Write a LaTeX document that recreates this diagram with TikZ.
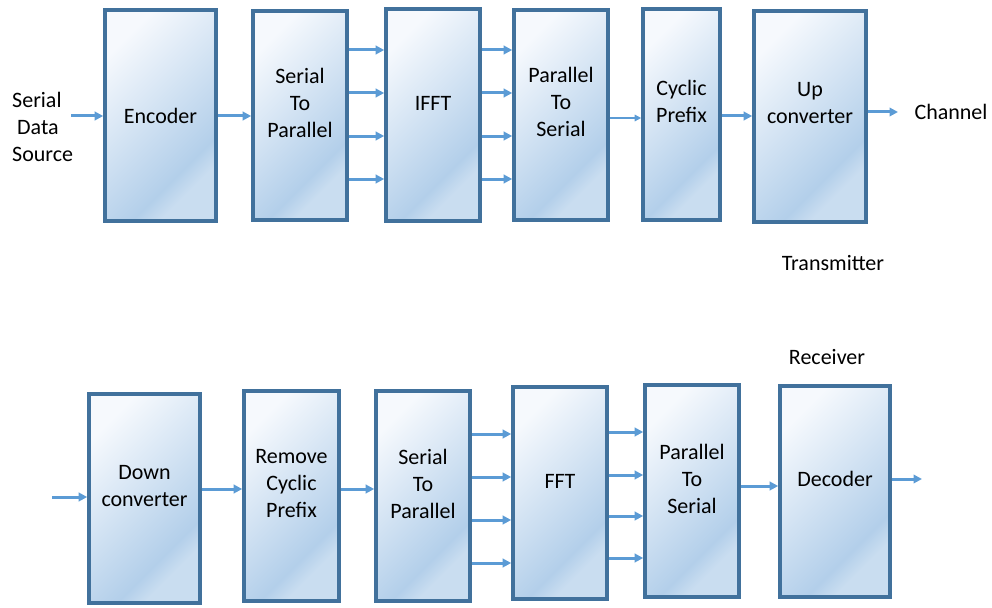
\documentclass[tikz,border=0pt]{standalone}
\usepackage{fontspec}
\setmainfont{Carlito}
\usetikzlibrary{arrows.meta}

\definecolor{bord}{HTML}{41719C}
\definecolor{arrc}{HTML}{5B9BD5}
\definecolor{bxL}{HTML}{F6F9FD}
\definecolor{bxD}{HTML}{B3CFEA}
\definecolor{bxB}{HTML}{C9DDF0}

% diagonal fill of the blocks: pale at the top, deeper blue near the bottom
\pgfdeclareverticalshading{boxfill}{100bp}{%
  color(0bp)=(bxB); color(27bp)=(bxB); color(33bp)=(bxD);
  color(75bp)=(bxL); color(100bp)=(bxL)}

\tikzset{
  blk/.style={draw=bord, line width=3.6pt, shading=boxfill, shading angle=45,
              inner sep=0pt},
  txt/.style={font=\fontsize{22}{27}\selectfont, align=center, inner sep=0pt},
  arr/.style={draw=arrc, line width=3pt,
              -{Triangle[length=8.5pt,width=8.5pt]}},
  thinarr/.style={draw=arrc, line width=1.3pt,
              -{Triangle[length=6.5pt,width=6.5pt]}},
}

\begin{document}
\begin{tikzpicture}[x=1pt, y=-1pt]
\useasboundingbox (0,0) rectangle (992,607);

% ---------------- transmitter chain ----------------
\node[blk, minimum width=111pt, minimum height=211pt,
      label={[txt, name=enct]center:Encoder}] (enc) at (160.5,115.5) {};
\node[blk, minimum width=94pt, minimum height=209pt,
      label={[txt, name=s2pat, yshift=12.5pt]center:Serial\\To\\Parallel}] (s2pa) at (300,115.5) {};
\node[blk, minimum width=94pt, minimum height=212pt,
      label={[txt, name=iffttx, yshift=12pt]center:IFFT}] (ifft) at (433,115) {};
\node[blk, minimum width=94pt, minimum height=210pt,
      label={[txt, name=p2sat, yshift=13pt]center:Parallel\\To\\Serial}] (p2sa) at (561,115) {};
\node[blk, minimum width=77pt, minimum height=211pt,
      label={[txt, name=cpt, yshift=13pt]center:Cyclic\\Prefix}] (cp) at (681.5,114.5) {};
\node[blk, minimum width=112pt, minimum height=211pt,
      label={[txt, name=upt, yshift=13pt]center:Up\\converter}] (up) at (810,116.5) {};

\node[txt, align=left, anchor=west] (src) at (12,126.5)
  {Serial\\\hspace*{5pt}Data\\Source};
\node[txt] (chan) at (951,112) {Channel};
\node[txt] (txlbl) at (833,263) {Transmitter};

\coordinate (srcend) at (71,116);
\coordinate (chanin) at (898,112);
\coordinate (ya) at (0,116);
\coordinate (yb) at (0,118);

\draw[arr] (srcend) -- (enc.west |- ya);
\draw[arr] (enc.east |- ya) -- (s2pa.west |- ya);
\foreach \y in {50,93,136,179} {
  \coordinate (t) at (0,\y);
  \draw[arr] (s2pa.east |- t) -- (ifft.west |- t);
  \draw[arr] (ifft.east |- t) -- (p2sa.west |- t);
}
\draw[thinarr] (p2sa.east |- yb) -- (cp.west |- yb);
\draw[arr] (cp.east |- ya) -- (up.west |- ya);
\draw[arr] (up.east |- chanin) -- (chanin);

% ---------------- receiver chain ----------------
\node[blk, minimum width=111pt, minimum height=209pt,
      label={[txt, name=dct, yshift=12pt]center:Down\\converter}] (dc) at (144.5,498.5) {};
\node[blk, minimum width=95pt, minimum height=210pt,
      label={[txt, name=rcpt, yshift=12pt]center:Remove\\Cyclic\\Prefix}] (rcp) at (291.5,496) {};
\node[blk, minimum width=94pt, minimum height=210pt,
      label={[txt, name=s2pbt, yshift=12pt]center:Serial\\To\\Parallel}] (s2pb) at (423,496) {};
\node[blk, minimum width=94pt, minimum height=212pt,
      label={[txt, name=fftt, yshift=12pt]center:FFT}] (fft) at (560,493) {};
\node[blk, minimum width=94pt, minimum height=212pt,
      label={[txt, name=p2sbt, yshift=12pt]center:Parallel\\To\\Serial}] (p2sb) at (692,491) {};
\node[blk, minimum width=110pt, minimum height=211pt,
      label={[txt, name=dect, yshift=12.5pt]center:Decoder}] (dec) at (835,491.5) {};

\node[txt] (rxlbl) at (827,357) {Receiver};

\coordinate (rxin) at (52,497);
\coordinate (rxout) at (922,479);
\coordinate (yc) at (0,489);
\coordinate (yd) at (0,486);

\draw[arr] (rxin) -- (dc.west |- rxin);
\draw[arr] (dc.east |- yc) -- (rcp.west |- yc);
\draw[arr] (rcp.east |- yc) -- (s2pb.west |- yc);
\foreach \y in {434,477,520,563} {
  \coordinate (t) at (0,\y);
  \draw[arr] (s2pb.east |- t) -- (fft.west |- t);
}
\foreach \y in {432,475,516,558} {
  \coordinate (t) at (0,\y);
  \draw[arr] (fft.east |- t) -- (p2sb.west |- t);
}
\draw[arr] (p2sb.east |- yd) -- (dec.west |- yd);
\draw[arr] (dec.east |- rxout) -- (rxout);
\end{tikzpicture}
\end{document}
